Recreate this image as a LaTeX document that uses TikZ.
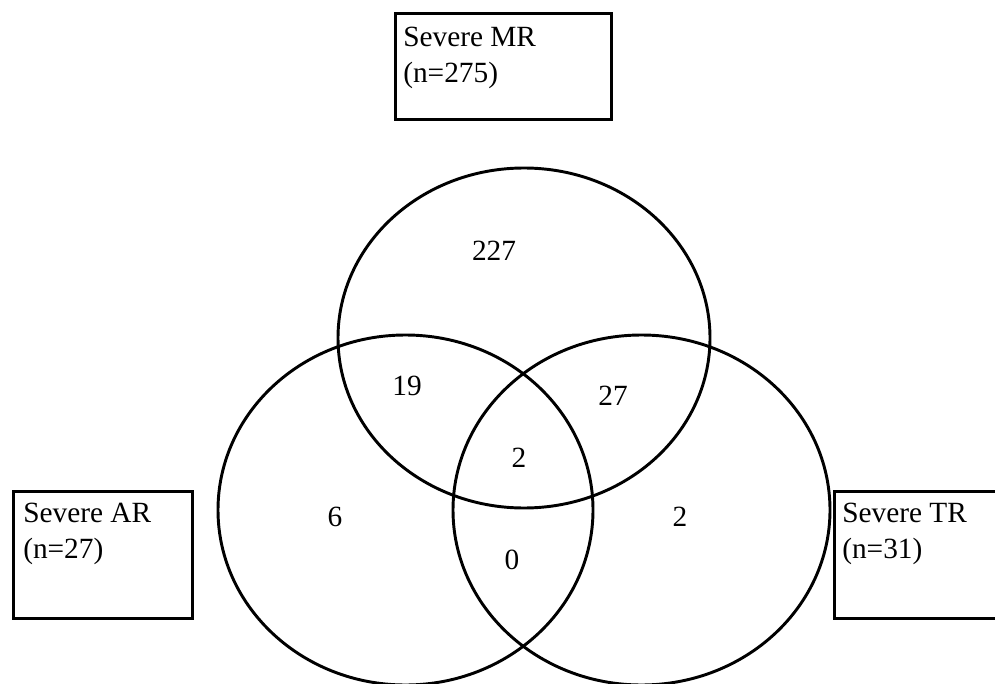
\documentclass[tikz,border=0pt]{standalone}
\usepackage{fontspec}
\setmainfont{Liberation Serif}
\usetikzlibrary{positioning}
\definecolor{ink}{HTML}{000000}

\begin{document}
\begin{tikzpicture}[x=0.75pt,y=-0.75pt,
    ring/.style={draw=ink,line width=2.2pt},
    setbox/.style={draw=ink,line width=2.3pt,anchor=north west,inner sep=0pt},
    setname/.style={font=\fontsize{22}{27}\selectfont,color=ink,align=left,anchor=north west,inner sep=0pt},
    count/.style={font=\fontsize{22}{27}\selectfont,color=ink,inner sep=0pt}]
  \useasboundingbox (0,0) rectangle (995,684);
  \clip (0,0) rectangle (995,684);
  % the three sets
  \draw[ring] (524,338) ellipse [x radius=186, y radius=170];
  \draw[ring] (405.5,510) ellipse [x radius=187.5, y radius=175];
  \draw[ring] (641.5,510) ellipse [x radius=188.5, y radius=175];
  % set names
  \node[setbox,minimum width=162pt,minimum height=79.5pt] (mrbox) at (394,12) {};
  \node[setname] (mrname) at (403,27) {Severe MR\\(n=275)};
  \node[setbox,minimum width=134.25pt,minimum height=95.25pt] (arbox) at (12,490) {};
  \node[setname] (arname) at (23,503) {Severe AR\\(n=27)};
  \node[setbox,minimum width=150pt,minimum height=95.25pt] (trbox) at (833,490) {};
  \node[setname] (trname) at (842,503) {Severe TR\\(n=31)};
  % counts
  \node[count] (mronly) at (494,251) {227};
  \node[count] (mrar) at (407,386) {19};
  \node[count] (mrtr) at (613,396) {27};
  \node[count] (all) at (519,458) {2};
  \node[count] (aronly) at (335,517) {6};
  \node[count] (tronly) at (680,517) {2};
  \node[count] (artr) at (512,560) {0};
\end{tikzpicture}
\end{document}
